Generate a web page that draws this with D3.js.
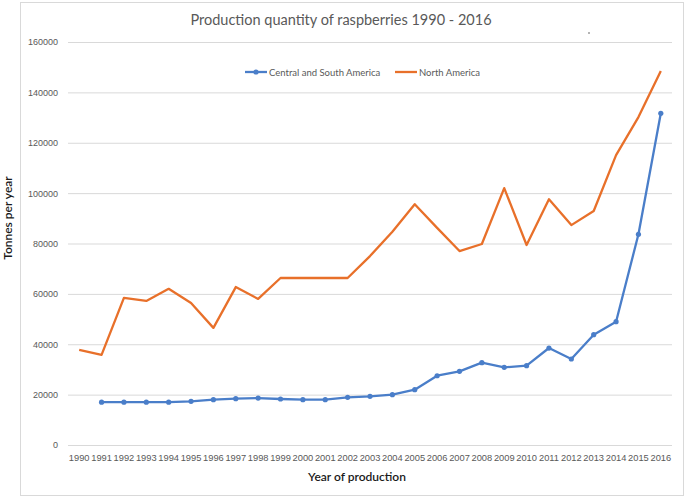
<!DOCTYPE html>
<html>
<head>
<meta charset="utf-8">
<script src="https://cdn.jsdelivr.net/npm/d3@7"></script>
<style>
  body { margin: 0; background: #fff; }
  svg { display: block; font-family: Lato, "Open Sans", sans-serif; }
</style>
</head>
<body>
<svg id="chart" width="687" height="498"></svg>
<script>
'use strict';
var years = d3.range(1990, 2017).map(String);
var yTicks = [0, 20000, 40000, 60000, 80000, 100000, 120000, 140000, 160000];
// null = no value for that year
var centralSouth = [null, 17000, 17000, 17000, 17000, 17350, 18000, 18400, 18650, 18260,
    18000, 18000, 18940, 19330, 19970, 21960, 27500, 29250, 32680, 30840,
    31500, 38500, 34150, 43800, 48950, 83650, 131700];
var northAmerica = [37800, 35800, 58400, 57200, 62000, 56400, 46500, 62700, 58000, 66300,
    66300, 66300, 66300, 75000, 84700, 95600, 86200, 77000, 79800, 102000,
    79400, 97600, 87300, 92900, 115100, 130200, 148500];
var seriesNames = ['Central and South America', 'North America'];
var seriesColors = ['#4a7ec9', '#e8702a'];

var svg = d3.select('#chart');
var margin = {left: 68, right: 15, top: 42, bottom: 53};
var width = 687 - margin.left - margin.right,
    height = 498 - margin.top - margin.bottom;

// outer chart frame
svg.append('rect')
    .attr('x', 20.5).attr('y', 2.5)
    .attr('width', 663).attr('height', 493)
    .attr('fill', 'none').attr('stroke', '#d9d9d9');

var g = svg.append('g')
    .attr('transform', 'translate(' + margin.left + ',' + margin.top + ')');

var x = d3.scaleBand().domain(years).range([0, width]);
var y = d3.scaleLinear().domain([0, 160000]).range([height, 0]);

// y grid + labels
var yAxis = g.append('g')
    .call(d3.axisLeft(y).tickValues(yTicks).tickFormat(d3.format('d'))
        .tickSizeInner(-width).tickSizeOuter(0).tickPadding(10));
yAxis.select('.domain').remove();
yAxis.selectAll('.tick line').attr('stroke', '#d9d9d9');
yAxis.selectAll('.tick text').attr('fill', '#595959').style('font-size', '9px');

// x labels
var xAxis = g.append('g')
    .attr('transform', 'translate(0,' + height + ')')
    .call(d3.axisBottom(x).tickSize(0).tickPadding(9));
xAxis.select('.domain').remove();
xAxis.selectAll('.tick text').attr('fill', '#595959').style('font-size', '9.3px');

var line = d3.line()
    .defined(function(d) { return d != null; })
    .x(function(d, i) { return x(years[i]) + x.bandwidth() / 2; })
    .y(function(d) { return y(d); });

function addSeries(values, color, markers) {
    g.append('path')
        .datum(values)
        .attr('fill', 'none')
        .attr('stroke', color)
        .attr('stroke-width', 2.3)
        .attr('stroke-linejoin', 'round')
        .attr('d', line);
    if (markers) {
        g.append('g').selectAll('circle')
            .data(values.map(function(v, i) { return {v: v, i: i}; }).filter(function(d) { return d.v != null; }))
            .join('circle')
            .attr('cx', function(d) { return x(years[d.i]) + x.bandwidth() / 2; })
            .attr('cy', function(d) { return y(d.v); })
            .attr('r', 2.6)
            .attr('fill', color);
    }
}
addSeries(northAmerica, seriesColors[1], false);
addSeries(centralSouth, seriesColors[0], true);

// title
svg.append('text')
    .attr('x', 341).attr('y', 25)
    .attr('text-anchor', 'middle')
    .attr('fill', '#595959')
    .style('font-size', '14.5px')
    .text('Production quantity of raspberries 1990 - 2016');

// stray dot in the original
svg.append('circle').attr('cx', 589).attr('cy', 33).attr('r', 0.8).attr('fill', '#555');

// legend
var legend = svg.append('g').attr('transform', 'translate(0,72)');
var legendX = [245, 395];
seriesNames.forEach(function(name, i) {
    var lg = legend.append('g').attr('transform', 'translate(' + legendX[i] + ',0)');
    lg.append('line').attr('x1', 0).attr('x2', 22).attr('y1', 0).attr('y2', 0)
        .attr('stroke', seriesColors[i]).attr('stroke-width', 2.3);
    if (i === 0) lg.append('circle').attr('cx', 11).attr('cy', 0).attr('r', 2.6).attr('fill', seriesColors[i]);
    lg.append('text').attr('x', 24).attr('y', 3.5)
        .attr('fill', '#595959').style('font-size', '9.5px').text(name);
});

// axis titles
svg.append('text')
    .attr('x', 357).attr('y', 481)
    .attr('text-anchor', 'middle')
    .attr('fill', '#1a1a1a')
    .style('font-size', '12px').style('font-weight', '600')
    .text('Year of production');
svg.append('text')
    .attr('transform', 'translate(12,218) rotate(-90)')
    .attr('text-anchor', 'middle')
    .attr('fill', '#1a1a1a')
    .style('font-size', '12px').style('font-weight', '600')
    .text('Tonnes per year');
</script>
</body>
</html>
